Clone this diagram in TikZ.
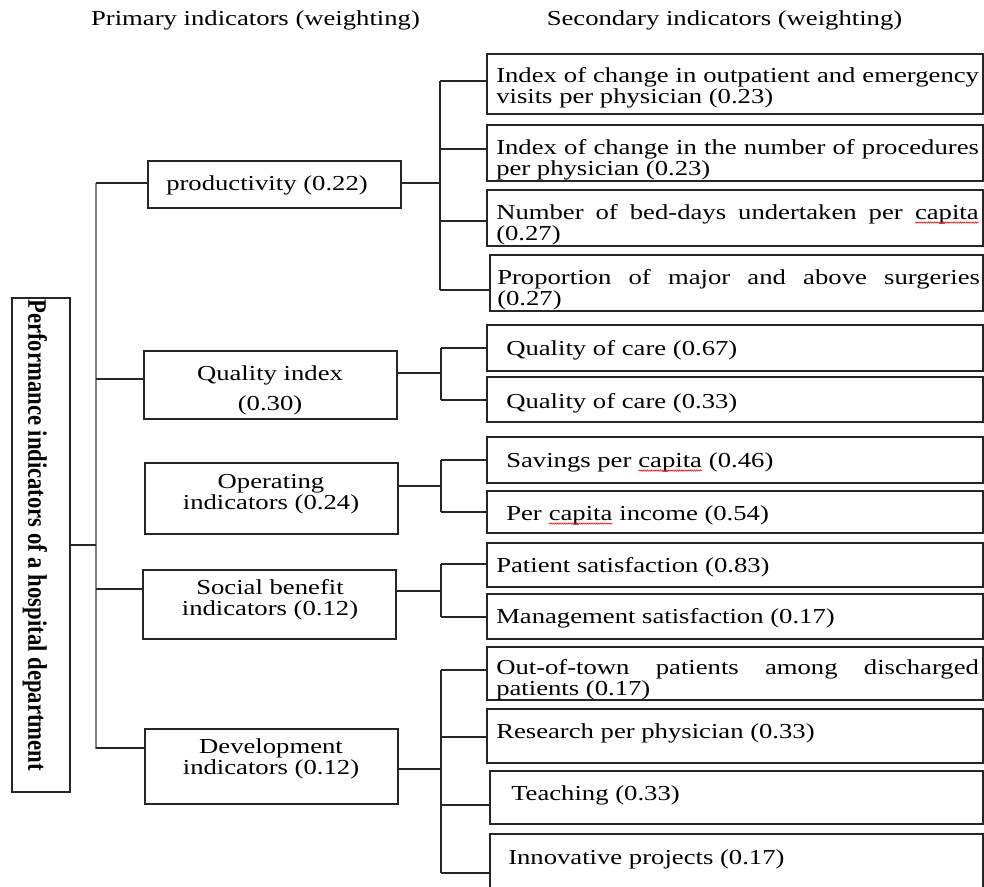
\documentclass[tikz,border=0pt]{standalone}
\usepackage{fontspec}
\setmainfont{Liberation Serif}[FakeStretch=1.25]
\newfontfamily\rootfont{Liberation Serif}[FakeStretch=0.85]
\usetikzlibrary{fit,decorations.pathmorphing}
\newcommand\redwave[2]{\tikz[baseline=(#1.base)]{\node[inner sep=0pt,outer sep=0pt,anchor=base] (#1) at (0,0) {#2};\draw[red, line width=0.4pt, decorate, decoration={snake,amplitude=0.5pt,segment length=1.6pt}] ([yshift=-2.6pt]#1.base west) -- ([yshift=-2.6pt]#1.base east);}}
\tikzset{
  box/.style={draw=black!85, line width=1.2pt, inner sep=0pt, outer sep=0pt, rectangle},
  conn/.style={draw=black!85, line width=0.95pt},
  trunkline/.style={draw=black!50, line width=1.7pt},
  lbl/.style={font={\fontsize{16pt}{16pt}\selectfont}, inner sep=0pt, align=center},
  stxt/.style={font={\fontsize{16pt}{16pt}\selectfont\hyphenpenalty10000\exhyphenpenalty10000}, inner sep=0pt, anchor=west},
  jtxt/.style={stxt, text width=362pt, align=justify},
  roottxt/.style={font={\rootfont\bfseries\fontsize{20pt}{22pt}\selectfont}, inner sep=0pt, rotate=-90, anchor=west}
}
\begin{document}
\begin{tikzpicture}[x=0.75pt, y=-0.75pt]
\useasboundingbox (0,0) rectangle (984,887);
\clip (0,0) rectangle (984,887);

% headers
\node[lbl] (h1) at (255.5,20) {Primary indicators (weighting)};
\node[lbl] (h2) at (724.5,20) {Secondary indicators (weighting)};

% root
\node[box, fit={(12,298) (70,792)}] (root) {};
\node[roottxt] (roott) at (35,299) {Performance indicators of a hospital department};

% primary boxes
\node[box, fit={(148,161) (401,208)}] (p1) {};
\node[box, fit={(144,351) (397,419)}] (p2) {};
\node[box, fit={(145,463) (398,534)}] (p3) {};
\node[box, fit={(143,570) (396,639)}] (p4) {};
\node[box, fit={(145,729) (398,804)}] (p5) {};

\node[lbl] (p1t) at (267,185.5) {productivity (0.22)};
\node[lbl] (p2t) at (270,390) {Quality index\\[6.5pt](0.30)};
\node[lbl] (p3t) at (271,494) {Operating\\indicators (0.24)};
\node[lbl] (p4t) at (270,599.5) {Social benefit\\indicators (0.12)};
\node[lbl] (p5t) at (271,759) {Development\\indicators (0.12)};

% secondary boxes
\node[box, fit={(487,54) (983,114)}] (s1) {};
\node[box, fit={(487,125) (983,181)}] (s2) {};
\node[box, fit={(487,190) (983,246)}] (s3) {};
\node[box, fit={(490,255) (983,311)}] (s4) {};
\node[box, fit={(487,325) (983,371)}] (s5) {};
\node[box, fit={(487,377) (983,422)}] (s6) {};
\node[box, fit={(487,437) (983,483)}] (s7) {};
\node[box, fit={(487,491) (983,533)}] (s8) {};
\node[box, fit={(487,543) (983,587)}] (s9) {};
\node[box, fit={(487,594) (983,639)}] (s10) {};
\node[box, fit={(487,647) (983,700)}] (s11) {};
\node[box, fit={(487,709) (983,763)}] (s12) {};
\node[box, fit={(490,771) (983,824)}] (s13) {};
\node[box, fit={(490,834) (983,900)}] (s14) {};

\node[jtxt] (s1t) at (496,88) {Index of change in outpatient and emergency\linebreak visits per physician (0.23)};
\node[jtxt] (s2t) at (496,159.5) {Index of change in the number of procedures\linebreak per physician (0.23)};
\node[jtxt] (s3t) at (496,224.5) {Number of bed-days undertaken per \redwave{wa}{capita}\linebreak (0.27)};
\node[jtxt] (s4t) at (497,289.5) {Proportion of major and above surgeries\linebreak (0.27)};
\node[stxt] (s5t) at (506,350) {Quality of care (0.67)};
\node[stxt] (s6t) at (506,403) {Quality of care (0.33)};
\node[stxt] (s7t) at (506,462) {Savings per \redwave{wb}{capita} (0.46)};
\node[stxt] (s8t) at (506,515) {Per \redwave{wc}{capita} income (0.54)};
\node[stxt] (s9t) at (496,567) {Patient satisfaction (0.83)};
\node[stxt] (s10t) at (496,618) {Management satisfaction (0.17)};
\node[jtxt] (s11t) at (496,679.5) {Out-of-town patients among discharged\linebreak patients (0.17)};
\node[stxt] (s12t) at (496,733) {Research per physician (0.33)};
\node[stxt] (s13t) at (511,795) {Teaching (0.33)};
\node[stxt] (s14t) at (508,859) {Innovative projects (0.17)};

% trunk and left connectors
\coordinate (b1) at (96,183);
\coordinate (b2) at (96,379);
\coordinate (b4) at (96,589);
\coordinate (b5) at (96,748);
\coordinate (tb) at (96,749);
\draw[trunkline] (b1) -- (tb);
\draw[conn] (root.east) -- (root.east -| b1);
\draw[conn] (b1) -- (b1 -| p1.west);
\draw[conn] (b2) -- (b2 -| p2.west);
\draw[conn] (b4) -- (b4 -| p4.west);
\draw[conn] (b5) -- (b5 -| p5.west);

% productivity bracket
\coordinate (j1) at (440,183);
\coordinate (k11) at (440,81);
\coordinate (k12) at (440,149);
\coordinate (k13) at (440,221);
\coordinate (k14) at (440,290);
\draw[conn] (p1.east |- j1) -- (j1);
\draw[conn] (k11) -- (k14);
\draw[conn] (k11) -- (k11 -| s1.west);
\draw[conn] (k12) -- (k12 -| s2.west);
\draw[conn] (k13) -- (k13 -| s3.west);
\draw[conn] (k14) -- (k14 -| s4.west);

% quality bracket
\coordinate (j2) at (441,373);
\coordinate (k21) at (441,348);
\coordinate (k22) at (441,400);
\draw[conn] (p2.east |- j2) -- (j2);
\draw[conn] (k21) -- (k22);
\draw[conn] (k21) -- (k21 -| s5.west);
\draw[conn] (k22) -- (k22 -| s6.west);

% operating bracket
\coordinate (j3) at (441,486);
\coordinate (k31) at (441,460);
\coordinate (k32) at (441,512);
\draw[conn] (p3.east |- j3) -- (j3);
\draw[conn] (k31) -- (k32);
\draw[conn] (k31) -- (k31 -| s7.west);
\draw[conn] (k32) -- (k32 -| s8.west);

% social bracket
\coordinate (j4) at (441,591);
\coordinate (k41) at (441,564);
\coordinate (k42) at (441,617);
\draw[conn] (p4.east |- j4) -- (j4);
\draw[conn] (k41) -- (k42);
\draw[conn] (k41) -- (k41 -| s9.west);
\draw[conn] (k42) -- (k42 -| s10.west);

% development bracket
\coordinate (j5) at (441,769);
\coordinate (k51) at (441,670);
\coordinate (k52) at (441,737);
\coordinate (k53) at (441,805);
\coordinate (k54) at (441,873);
\draw[conn] (p5.east |- j5) -- (j5);
\draw[conn] (k51) -- (k54);
\draw[conn] (k51) -- (k51 -| s11.west);
\draw[conn] (k52) -- (k52 -| s12.west);
\draw[conn] (k53) -- (k53 -| s13.west);
\draw[conn] (k54) -- (k54 -| s14.west);
\end{tikzpicture}
\end{document}
